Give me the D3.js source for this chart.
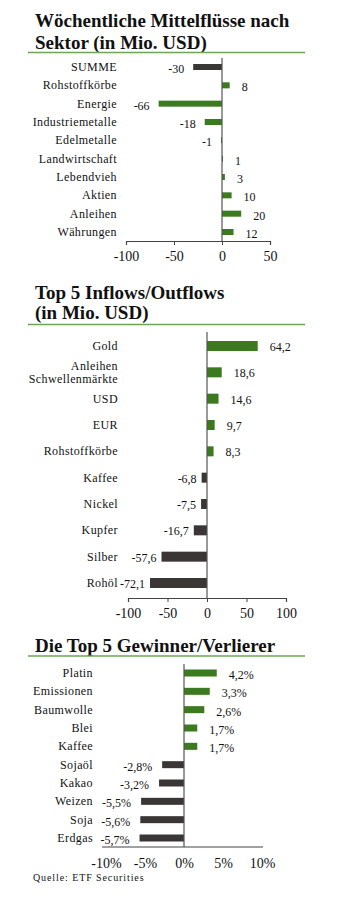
<!DOCTYPE html>
<html><head><meta charset="utf-8">
<script src="https://cdn.jsdelivr.net/npm/d3@7"></script>
<style>
html,body{margin:0;padding:0;background:#fff;}
svg{display:block;}
text{font-family:"Liberation Serif","DejaVu Serif",serif;fill:#111;}
</style></head>
<body>
<svg id="chart" width="350" height="899"></svg>
<script>
// Panel 1 data
const sectorCats = ["SUMME","Rohstoffkörbe","Energie","Industriemetalle","Edelmetalle","Landwirtschaft","Lebendvieh","Aktien","Anleihen","Währungen"];
const sectorVals = [-30, 8, -66, -18, -1, 1, 3, 10, 20, 12];
const sectorLabels = ["-30","8","-66","-18","-1","1","3","10","20","12"];
const sectorTicks = [-100, -50, 0, 50];

// Panel 2 data
const flowCats = ["Gold","Anleihen\nSchwellenmärkte","USD","EUR","Rohstoffkörbe","Kaffee","Nickel","Kupfer","Silber","Rohöl"];
const flowVals = [64.2, 18.6, 14.6, 9.7, 8.3, -6.8, -7.5, -16.7, -57.6, -72.1];
const flowLabels = ["64,2","18,6","14,6","9,7","8,3","-6,8","-7,5","-16,7","-57,6","-72,1"];
const flowTicks = [-100, -50, 0, 50, 100];

// Panel 3 data
const perfCats = ["Platin","Emissionen","Baumwolle","Blei","Kaffee","Sojaöl","Kakao","Weizen","Soja","Erdgas"];
const perfVals = [4.2, 3.3, 2.6, 1.7, 1.7, -2.8, -3.2, -5.5, -5.6, -5.7];
const perfLabels = ["4,2%","3,3%","2,6%","1,7%","1,7%","-2,8%","-3,2%","-5,5%","-5,6%","-5,7%"];
const perfTicks = [-10, -5, 0, 5, 10];
const perfTickLabels = ["-10%","-5%","0%","5%","10%"];

const GREEN = "#3b7a1e", DARK = "#3a3636", RULE = "#6fa552";
const svg = d3.select("#chart");

function panel(o) {
  const g = svg.append("g");
  // title
  o.title.forEach((t, i) => {
    g.append("text").attr("x", o.titleX).attr("y", o.titleY + i * o.titleGap)
      .attr("font-size", 19).attr("font-weight", "bold").text(t);
  });
  g.append("line").attr("x1", 28).attr("x2", 305).attr("y1", o.ruleY).attr("y2", o.ruleY)
    .attr("stroke", RULE).attr("stroke-width", 1.5);

  const x = d3.scaleLinear().domain(o.domain).range(o.xRange);
  const y = d3.scalePoint().domain(o.cats).range([o.yFirst, o.yLast]);

  // bars
  g.selectAll("rect.bar").data(o.vals).enter().append("rect")
    .attr("x", (d) => Math.min(x(0), x(d)))
    .attr("width", (d) => Math.abs(x(d) - x(0)))
    .attr("y", (d, i) => y(o.cats[i]) - o.barH / 2)
    .attr("height", o.barH)
    .attr("fill", (d, i) => o.colorFn(d, i));

  // zero line
  g.append("line").attr("x1", x(0)).attr("x2", x(0)).attr("y1", o.zeroTop).attr("y2", o.axisY)
    .attr("stroke", "#555").attr("stroke-width", 1.2);

  // axis
  const axis = d3.axisBottom(x).tickValues(o.ticks).tickSize(o.tickSize).tickPadding(o.tickPad)
    .tickFormat((d, i) => o.tickLabels[i]);
  const ax = g.append("g").attr("transform", `translate(0,${o.axisY})`).call(axis);
  ax.select(".domain").attr("stroke", "#444").attr("stroke-width", 1.2);
  if (o.axisRange) ax.select(".domain").attr("d", `M${o.axisRange[0]},0H${o.axisRange[1]}`);
  ax.selectAll(".tick line").attr("stroke", "#444");
  ax.selectAll(".tick text").attr("font-size", 14).attr("fill", "#111")
    .style("font-family", '"Liberation Serif","DejaVu Serif",serif');

  // category labels
  o.cats.forEach((c, i) => {
    const lines = c.split("\n");
    const t = g.append("text").attr("x", o.labelX).attr("text-anchor", "end")
      .attr("font-size", 12).attr("letter-spacing", 0.4).attr("y", y(c) + 4 - (lines.length - 1) * 6.5);
    lines.forEach((l, j) => t.append("tspan").attr("x", o.labelX).attr("dy", j ? 13 : 0).text(l));
  });

  // value labels
  o.vals.forEach((v, i) => {
    const cy = y(o.cats[i]) + 4 + (o.valDy || 0);
    if (v >= 0) {
      g.append("text").attr("x", x(v) + o.gapPos).attr("y", cy).attr("font-size", 12).text(o.valLabels[i]);
    } else {
      g.append("text").attr("x", x(v) - o.gapNeg).attr("y", cy).attr("text-anchor", "end")
        .attr("font-size", 12).text(o.valLabels[i]);
    }
  });
}

panel({
  title: ["Wöchentliche Mittelflüsse nach", "Sektor (in Mio. USD)"], titleX: 35, titleY: 27, titleGap: 22, ruleY: 52.5,
  cats: sectorCats, vals: sectorVals, valLabels: sectorLabels,
  domain: [-100, 50], xRange: [126, 270], yFirst: 67, yLast: 232, barH: 6,
  colorFn: (d, i) => i === 0 ? DARK : GREEN,
  zeroTop: 58, axisY: 241, ticks: sectorTicks, tickLabels: sectorTicks.map(String), tickSize: 4, tickPad: 6,
  labelX: 117, gapPos: 12, gapNeg: 9, valDy: 2
});

panel({
  title: ["Top 5 Inflows/Outflows", "(in Mio. USD)"], titleX: 35, titleY: 299, titleGap: 20, ruleY: 324.5,
  cats: flowCats, vals: flowVals, valLabels: flowLabels,
  domain: [-100, 100], xRange: [128, 286], yFirst: 346, yLast: 583, barH: 10,
  colorFn: (d) => d >= 0 ? GREEN : DARK,
  zeroTop: 332, axisY: 598, ticks: flowTicks, tickLabels: flowTicks.map(String), tickSize: 4, tickPad: 6,
  labelX: 118, gapPos: 12, gapNeg: 5, valDy: 1
});

panel({
  title: ["Die Top 5 Gewinner/Verlierer"], titleX: 35, titleY: 652, titleGap: 20, ruleY: 656,
  cats: perfCats, vals: perfVals, valLabels: perfLabels,
  domain: [-10, 10], xRange: [106, 262], yFirst: 673, yLast: 838, barH: 7,
  colorFn: (d) => d >= 0 ? GREEN : DARK,
  zeroTop: 664, axisY: 847, ticks: perfTicks, tickLabels: perfTickLabels, tickSize: 0, tickPad: 11,
  axisRange: [102, 263],
  labelX: 93, gapPos: 12, gapNeg: 10, valDy: 2
});

svg.append("text").attr("x", 33).attr("y", 881).attr("font-size", 10).attr("letter-spacing", 0.9)
  .text("Quelle: ETF Securities");
</script>
</body></html>
